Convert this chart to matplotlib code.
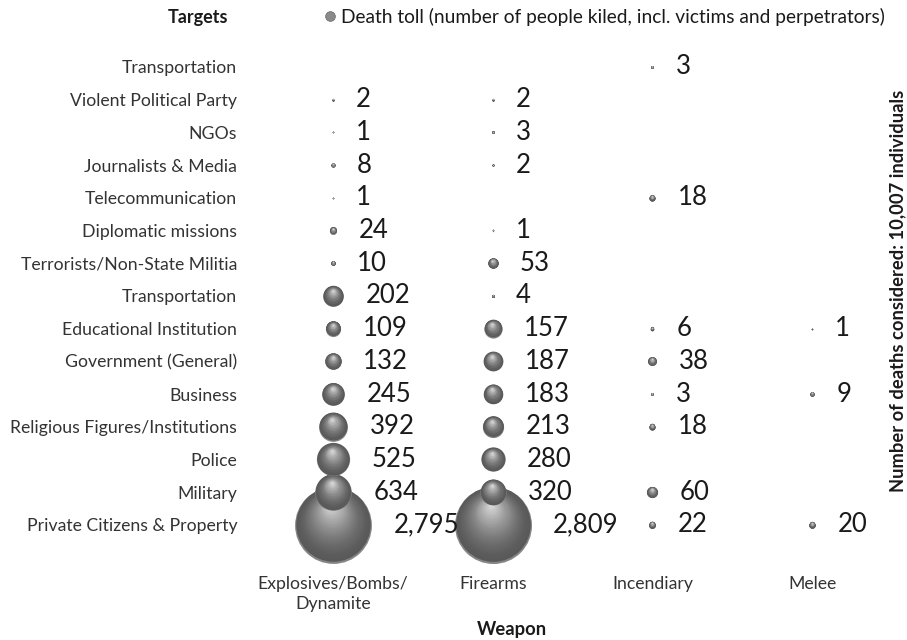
import matplotlib
matplotlib.use("Agg")
import matplotlib.pyplot as plt
from matplotlib.lines import Line2D
import numpy as np

plt.rcParams['font.family'] = ['Lato', 'DejaVu Sans']

# ---- data ----
targets = ["Transportation", "Violent Political Party", "NGOs", "Journalists & Media",
           "Telecommunication", "Diplomatic missions", "Terrorists/Non-State Militia",
           "Transportation", "Educational Institution", "Government (General)",
           "Business", "Religious Figures/Institutions", "Police", "Military",
           "Private Citizens & Property"]  # top to bottom
weapons = ["Explosives/Bombs/\nDynamite", "Firearms", "Incendiary", "Melee"]
explosives = [None, 2, 1, 8, 1, 24, 10, 202, 109, 132, 245, 392, 525, 634, 2795]
firearms = [None, 2, 3, 2, None, 1, 53, 4, 157, 187, 183, 213, 280, 320, 2809]
incendiary = [3, None, None, None, 18, None, None, None, 6, 38, 3, 18, None, 60, 22]
melee = [None, None, None, None, None, None, None, None, 1, None, 9, None, None, None, 20]
series = [explosives, firearms, incendiary, melee]

# ---- layout ----
W, H, DPI = 907, 640, 100
fig = plt.figure(figsize=(W / DPI, H / DPI), dpi=DPI)
col_px = 159.7
row_px = 32.7
left_px = 333 - 0.5 * col_px
top_px = 67 - 0.5 * row_px
ax_w = 4 * col_px
ax_h = 15 * row_px
ax = fig.add_axes([left_px / W, 1 - (top_px + ax_h) / H, ax_w / W, ax_h / H])
ax.set_xlim(-0.5, 3.5)
ax.set_ylim(-0.5, 14.5)
n = len(targets)
ypos = np.arange(n)[::-1]  # top row gets highest y

maxv = max(v for s in series for v in s if v is not None)
RMAX = 38.5  # px radius of the largest bubble

bubbles = []
for ci, s in enumerate(series):
    for ri, v in enumerate(s):
        if v is None:
            continue
        r = RMAX * np.sqrt(v / maxv)
        bubbles.append((ci, ypos[ri], v, r))

# draw largest first so smaller are in front
bubbles.sort(key=lambda b: -b[3])
NL = 32
for rank, (x, y, v, r) in enumerate(bubbles):
    z = 2 + rank
    # base (soft lighter rim at the bottom)
    ax.scatter([x], [y], s=(2 * r * 0.72) ** 2, color=(0.52, 0.52, 0.52),
               linewidths=0, zorder=z, clip_on=False)
    for k in range(NL):
        t = k / NL
        rr = r * 0.97 * (1 - t) ** 0.95
        if rr <= 0.05:
            continue
        dx = -0.05 * r * t
        dy = 0.025 * r + 0.50 * r * t
        g = 0.35 + 0.53 * t ** 1.6
        ax.scatter([x + dx / col_px], [y + dy / row_px], s=(2 * rr * 0.72) ** 2,
                   color=(g, g, g), linewidths=0, zorder=z, clip_on=False)

# value labels
for ci, s in enumerate(series):
    for ri, v in enumerate(s):
        if v is None:
            continue
        r = RMAX * np.sqrt(v / maxv)
        off = (22 + r) * 0.72
        ax.annotate(f"{v:,}", (ci, ypos[ri]), xytext=(off, 0), textcoords='offset points',
                    ha='left', va='center', fontsize=18.5, color='#1a1a1a', zorder=200)

ax.set_yticks(ypos)
ax.set_yticklabels(targets, fontsize=12.7, color='#333333')
ax.set_xticks(range(4))
ax.set_xticklabels(weapons, fontsize=12.7, color='#333333', linespacing=1.3)
ax.tick_params(axis='both', length=0)
ax.tick_params(axis='y', pad=11.5)
ax.tick_params(axis='x', pad=25)
for sp in ax.spines.values():
    sp.set_visible(False)

fig.text(198 / W, 1 - 18 / H, "Targets", ha='center', va='center', fontsize=13,
         fontweight='bold', color='#1a1a1a')
fig.text(512 / W, 1 - 630 / H, "Weapon", ha='center', va='center', fontsize=13.2,
         fontweight='bold', color='#1a1a1a')
fig.text(898 / W, 1 - 291 / H, "Number of deaths considered: 10,007 individuals",
         rotation=90, ha='center', va='center', fontsize=13.2, fontweight='bold',
         color='#1a1a1a')

handle = Line2D([], [], marker='o', ls='', markersize=7, markerfacecolor='#8a8a8a',
                markeredgecolor='#666666', markeredgewidth=0.5)
fig.legend([handle], ["Death toll (number of people kiled, incl. victims and perpetrators)"],
           loc='center left', bbox_to_anchor=(324 / W, 1 - 17 / H), frameon=False,
           fontsize=13.8, handlelength=0.6, handletextpad=0.3, borderpad=0,
           borderaxespad=0, labelcolor='#1a1a1a')

fig.savefig("out.png", dpi=DPI)
